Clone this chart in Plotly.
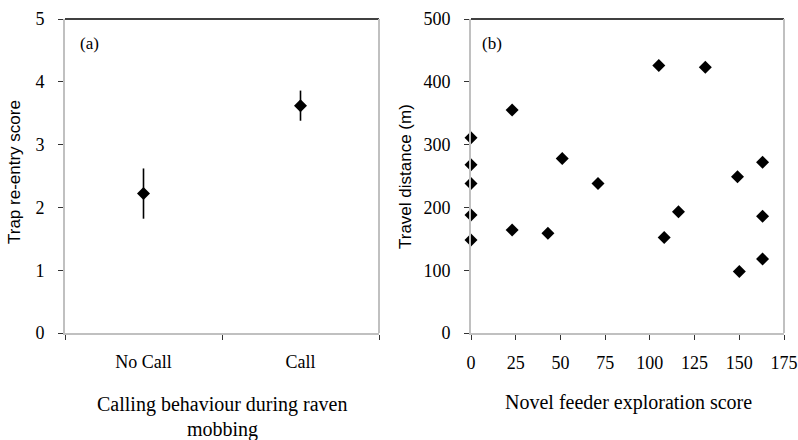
import plotly.graph_objects as go

# Panel (a): trap re-entry score by calling behaviour (mean ± error)
call_groups = ["No Call", "Call"]
reentry_mean = [2.22, 3.62]
reentry_err = [0.40, 0.24]

# Panel (b): travel distance against novel feeder exploration score
explore_score = [0, 0, 0, 0, 0, 23, 23, 43, 51, 71, 105, 108, 116, 131, 149, 150, 163, 163, 163]
travel_dist = [311, 268, 238, 188, 148, 355, 164, 159, 278, 238, 426, 152, 193, 423, 249, 98, 272, 186, 118]

y_ticks_a = [0, 1, 2, 3, 4, 5]
y_ticks_b = [0, 100, 200, 300, 400, 500]
x_ticks_b = [0, 25, 50, 75, 100, 125, 150, 175]

SERIF = "Liberation Serif"
SANS = "Liberation Sans"
AXIS_GREY = "#c0c0c0"

fig = go.Figure()

group_pos = [i + 0.5 for i in range(len(call_groups))]
fig.add_trace(go.Scatter(
    x=group_pos, y=reentry_mean, mode="markers",
    marker=dict(symbol="diamond", size=10, color="black"),
    error_y=dict(type="data", array=reentry_err, color="black", thickness=1.6, width=0),
    xaxis="x", yaxis="y", showlegend=False, cliponaxis=False,
))

fig.add_trace(go.Scatter(
    x=explore_score, y=travel_dist, mode="markers",
    marker=dict(symbol="diamond", size=10, color="black"),
    xaxis="x2", yaxis="y2", showlegend=False, cliponaxis=False,
))

ydom = [1 - 333 / 440, 1 - 19 / 440]
tick_font = dict(family=SERIF, size=18, color="black")

common_axis = dict(
    showgrid=False, zeroline=False, showline=True, linecolor=AXIS_GREY, linewidth=2,
    ticks="outside", ticklen=5, tickwidth=1, tickcolor="#333333", tickfont=tick_font,
    automargin=False,
)

fig.update_layout(
    template="none",
    width=798, height=440,
    margin=dict(l=0, r=0, t=0, b=0, pad=0),
    paper_bgcolor="white", plot_bgcolor="white",
    xaxis=dict(
        domain=[65 / 798, 379 / 798], range=[0, len(call_groups)],
        tickvals=group_pos, ticktext=call_groups, ticks="",
        minor=dict(ticks="outside", tick0=0, dtick=1, ticklen=5, tickcolor="#333333", showgrid=False),
        showgrid=False, zeroline=False, showline=True, linecolor=AXIS_GREY, linewidth=2,
        tickfont=tick_font, ticklabelstandoff=11, automargin=False,
    ),
    yaxis=dict(domain=ydom, range=[0, 5], tickvals=y_ticks_a, ticklabelstandoff=10, **common_axis),
    xaxis2=dict(domain=[471 / 798, 784 / 798], range=[0, 175], tickvals=x_ticks_b,
                anchor="y2", ticklabelstandoff=7, **common_axis),
    yaxis2=dict(domain=ydom, range=[0, 500], tickvals=y_ticks_b, anchor="x2",
                ticklabelstandoff=10, **common_axis),
)

# Top (black) and right (grey) frame of each plot area
for xr, yr in (("x", "y"), ("x2", "y2")):
    fig.add_shape(type="line", xref=f"{xr} domain", yref=f"{yr} domain",
                  x0=0, x1=1, y0=1, y1=1, line=dict(color="black", width=1.5))
    fig.add_shape(type="line", xref=f"{xr} domain", yref=f"{yr} domain",
                  x0=1, x1=1, y0=0, y1=1, line=dict(color=AXIS_GREY, width=2))

def px_x(v):
    return v / 798

def px_y(v):
    return 1 - v / 440

annotations = [
    dict(text="(a)", x=px_x(89), y=px_y(44), font=dict(family=SERIF, size=17)),
    dict(text="(b)", x=px_x(492), y=px_y(43), font=dict(family=SERIF, size=17)),
    dict(text="Trap re-entry score", x=px_x(15), y=px_y(172), textangle=-90,
         font=dict(family=SANS, size=17)),
    dict(text="Travel distance (m)", x=px_x(405), y=px_y(177), textangle=-90,
         font=dict(family=SANS, size=17)),
    dict(text="Calling behaviour during raven", x=px_x(222), y=px_y(404),
         font=dict(family=SERIF, size=20)),
    dict(text="mobbing", x=px_x(222), y=px_y(429), font=dict(family=SERIF, size=20)),
    dict(text="Novel feeder exploration score", x=px_x(628), y=px_y(402),
         font=dict(family=SERIF, size=20)),
]
for a in annotations:
    a.update(xref="paper", yref="paper", showarrow=False, xanchor="center", yanchor="middle")
    a["font"]["color"] = "black"
    fig.add_annotation(**a)

fig.write_html("out.html")
